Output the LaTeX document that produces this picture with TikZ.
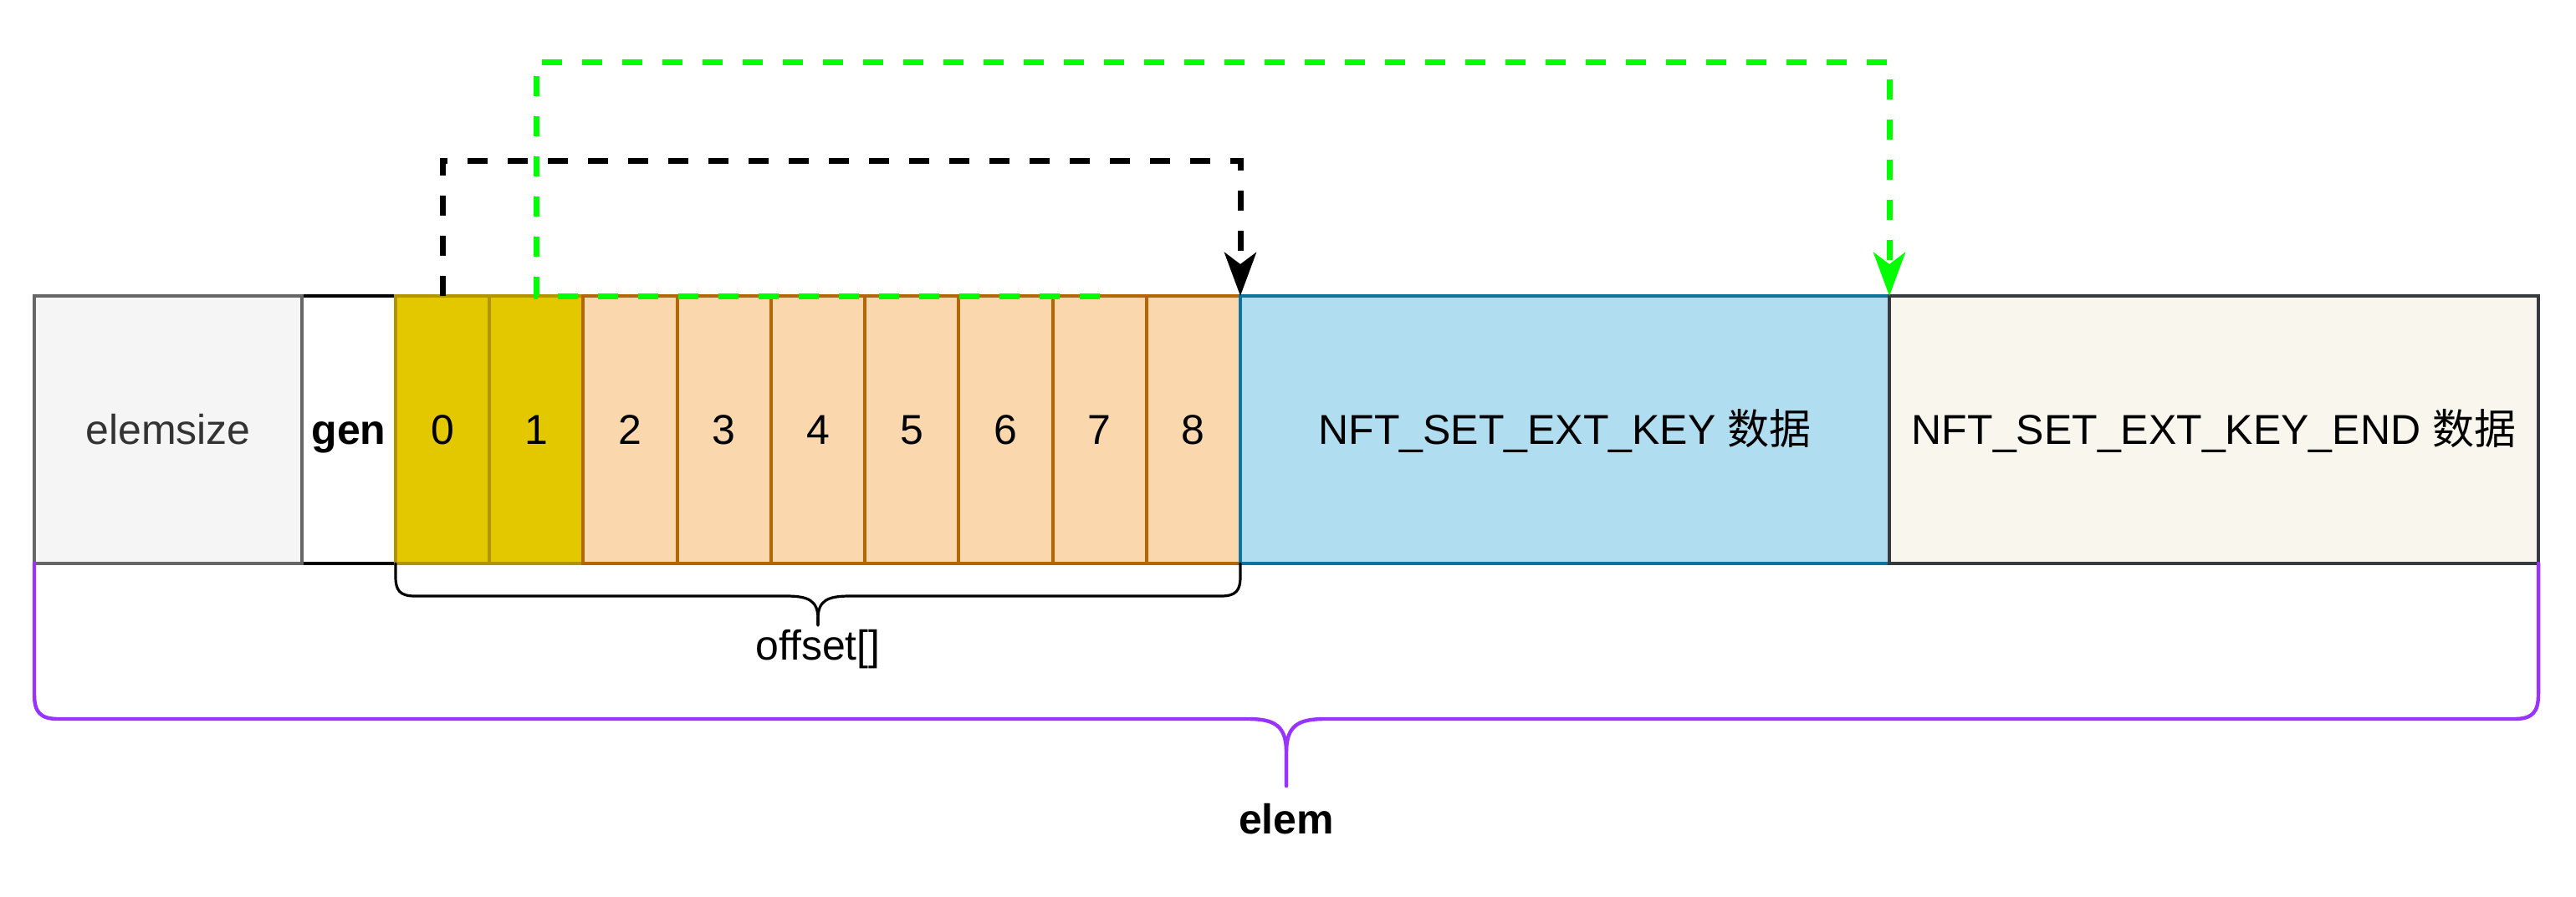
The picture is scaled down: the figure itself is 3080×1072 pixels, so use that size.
\documentclass[tikz,border=0pt]{standalone}
\usepackage{fontspec}
\setmainfont{Liberation Sans}
\newfontfamily\cjk{Noto Sans CJK SC}
\usetikzlibrary{arrows.meta}
\definecolor{esFill}{HTML}{F5F5F5}
\definecolor{esLine}{HTML}{666666}
\definecolor{esText}{HTML}{333333}
\definecolor{yFill}{HTML}{E3C800}
\definecolor{yLine}{HTML}{B09500}
\definecolor{oFill}{HTML}{FAD7AC}
\definecolor{oLine}{HTML}{B46504}
\definecolor{bFill}{HTML}{B1DDF0}
\definecolor{bLine}{HTML}{10739E}
\definecolor{gFill}{HTML}{F9F7ED}
\definecolor{gLine}{HTML}{36393D}
\definecolor{purp}{HTML}{9933FF}
\definecolor{neon}{HTML}{00FF00}
\begin{document}
\begin{tikzpicture}[x=0.25pt,y=-0.25pt,
  font=\fontsize{12.5}{15}\selectfont,
  box/.style={draw, line width=1pt, minimum width=#1, minimum height=80pt,
    inner sep=0pt, outer sep=0pt, text height=10pt, text depth=1.5pt},
  ycell/.style={box=28.055pt, draw=yLine, fill=yFill},
  ocell/.style={box=28.055pt, draw=oLine, fill=oFill},
  ptr/.style={line width=1.75pt, dash pattern=on 6pt off 6pt,
    -{Stealth[length=13pt,width=9.5pt,inset=3.5pt]}},
  brace/.style={line width=0.8pt, line cap=round},
  bold/.style={font=\fontsize{12.5}{15}\selectfont\bfseries}]
\useasboundingbox (0,0) rectangle (3080,1072);

% boxes
\node[box=28pt, draw=black, fill=white, bold] (gen) at (417,514) {gen};
\node[box=80pt, draw=esLine, fill=esFill, text=esText] (elemsize) at (201,514) {elemsize};
\foreach \i in {0,1}
  \node[ycell] (c\i) at ({473+112.22*(\i+0.5)},514) {\i};
\foreach \i in {2,...,8}
  \node[ocell] (c\i) at ({473+112.22*(\i+0.5)},514) {\i};
\node[box=194pt, draw=bLine, fill=bFill] (key) at (1871,514) {NFT\_SET\_EXT\_KEY {\cjk 数据}};
\node[box=194pt, draw=gLine, fill=gFill] (keyend) at (2647,514) {NFT\_SET\_EXT\_KEY\_END {\cjk 数据}};

% pointer connectors
\coordinate (yb) at (0,192);
\coordinate (yg) at (0,74);
\draw[ptr, black] (c0.north) -- (c0.north |- yb) -- (key.north west |- yb) -- (key.north west);
\draw[ptr, neon] (c7.north) -- (c1.north) -- (c1.north |- yg) -- (keyend.north west |- yg) -- (keyend.north west);

% offset brace
\draw[brace, black] (473,674) -- (473,690) .. controls (473,706) and (478,713) .. (496,713)
  -- (940,713) .. controls (966,713) and (978,718) .. (978,740) -- (978,748);
\draw[brace, black] (1483,674) -- (1483,690) .. controls (1483,706) and (1478,713) .. (1460,713)
  -- (1016,713) .. controls (990,713) and (978,718) .. (978,740) -- (978,748);
\node (offset) at (978,777) {offset[]};

% elem brace
\draw[brace, purp, line width=1.1pt] (41,674) -- (41,830) .. controls (41,852) and (48,860) .. (70,860)
  -- (1492,860) .. controls (1524,860) and (1538,868) .. (1538,900) -- (1538,940);
\draw[brace, purp, line width=1.1pt] (3035,674) -- (3035,830) .. controls (3035,852) and (3028,860) .. (3006,860)
  -- (1584,860) .. controls (1552,860) and (1538,868) .. (1538,900) -- (1538,940);
\node[bold] (elem) at (1538,980) {elem};
\end{tikzpicture}
\end{document}
